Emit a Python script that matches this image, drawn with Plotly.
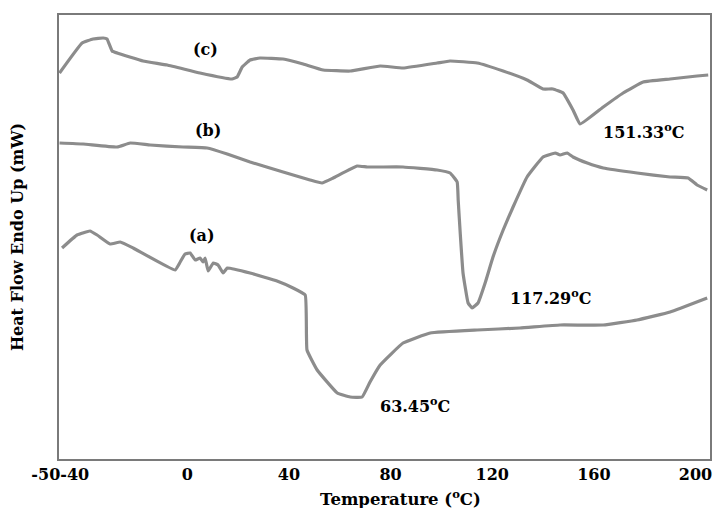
import plotly.graph_objects as go

# Temperature (°C) and heat flow (arbitrary mW units)
temp_a = [-49.3, -43.4, -38.3, -35.5, -30.4, -26.4, -21.3, -4.8, -2.8, -0.9, 1.1, 3.1, 5.0, 6.2, 7.0, 8.2,
          10.2, 12.1, 14.1, 15.7, 24.7, 35.3, 41.6, 46.4, 47.1, 51.1, 59.0, 64.1, 68.8, 71.9, 75.9, 84.9,
          95.6, 114.1, 130.9, 146.7, 163.7, 177.0, 190.0, 204.6]
flow_a = [21.1, 22.4, 22.8, 22.4, 21.5, 21.7, 21.1, 18.9, 19.7, 20.5, 20.6, 19.9, 20.1, 19.7, 20.1, 18.8,
          19.6, 19.4, 18.6, 19.1, 18.6, 17.8, 17.1, 16.4, 10.9, 8.9, 6.6, 6.2, 6.2, 7.7, 9.4, 11.6,
          12.6, 12.9, 13.1, 13.4, 13.4, 13.9, 14.7, 16.1]

temp_b = [-50.3, -41.0, -27.6, -22.5, -14.6, -1.7, 7.8, 15.7, 24.7, 37.7, 48.3, 53.0, 57.4, 66.8, 70.8, 75.9,
          84.9, 98.3, 103.4, 106.2, 106.6, 107.4, 108.5, 110.5, 112.1, 114.4, 117.2, 120.3, 124.3, 128.2,
          133.7, 140.0, 144.8, 146.7, 149.5, 151.8, 157.4, 163.7, 177.0, 190.0, 197.1, 200.6, 204.6]
flow_b = [31.6, 31.5, 31.2, 31.6, 31.4, 31.2, 31.1, 30.5, 29.7, 28.7, 27.9, 27.6, 28.1, 29.3, 29.2, 29.2,
          29.2, 28.9, 28.6, 27.7, 25.9, 22.6, 18.6, 15.6, 15.1, 15.6, 17.6, 20.2, 22.9, 25.2,
          28.2, 30.2, 30.6, 30.4, 30.6, 30.2, 29.6, 29.1, 28.6, 28.2, 28.1, 27.4, 26.9]

temp_c = [-50.3, -41.4, -37.1, -33.1, -31.6, -29.6, -27.6, -17.4, -7.9, 5.0, 17.6, 19.6, 21.6, 24.7, 28.6,
          37.7, 45.6, 53.5, 64.1, 75.9, 84.9, 98.3, 103.4, 114.1, 124.3, 133.7, 140.0, 143.9, 147.9, 151.8,
          154.6, 163.7, 171.5, 179.4, 190.0, 200.6, 205.0]
flow_c = [38.6, 41.6, 42.0, 42.1, 42.0, 40.8, 40.6, 39.8, 39.4, 38.6, 38.0, 38.2, 39.2, 39.9, 40.1,
          40.0, 39.5, 38.9, 38.8, 39.3, 39.1, 39.6, 39.8, 39.6, 38.8, 37.9, 37.0, 37.0, 36.6, 34.9,
          33.5, 35.2, 36.6, 37.7, 38.0, 38.3, 38.4]

tick_vals = [-50, 0, 40, 80, 120, 160, 200]
tick_text = ["-50-40", "0", "40", "80", "120", "160", "200"]

labels = ["(a)", "(b)", "(c)", "63.45<sup>o</sup>C", "117.29<sup>o</sup>C", "151.33<sup>o</sup>C"]
label_x = [5.8, 8.2, 7.0, 89.7, 142.8, 179.4]
label_y = [22.4, 32.9, 41.0, 5.4, 16.2, 32.8]

x_title = "Temperature (<sup>o</sup>C)"
y_title = "Heat Flow Endo Up (mW)"

SERIF = "DejaVu Serif"
LINE = "#8c8c8c"

fig = go.Figure()
for t, f, name in [(temp_a, flow_a, "(a)"), (temp_b, flow_b, "(b)"), (temp_c, flow_c, "(c)")]:
    fig.add_trace(go.Scatter(x=t, y=f, mode="lines", name=name,
                             line=dict(color=LINE, width=3.2, shape="spline", smoothing=0.3)))

for txt, x, y in zip(labels, label_x, label_y):
    fig.add_annotation(x=x, y=y, text=txt, showarrow=False,
                       font=dict(family=SERIF, size=16, color="black", weight="bold"))

# x-axis title (slightly right of centre, as in the original)
fig.add_annotation(xref="paper", yref="paper", x=0.525, y=-0.088, xanchor="center", yanchor="middle",
                   text=x_title, showarrow=False,
                   font=dict(family=SERIF, size=16.5, color="black", weight="bold"))

fig.update_layout(
    width=720, height=508,
    margin=dict(l=59, r=10, t=15, b=49),
    paper_bgcolor="white", plot_bgcolor="white",
    showlegend=False,
    xaxis=dict(range=[-50.5, 205.7], tickvals=tick_vals, ticktext=tick_text,
               showline=True, mirror=True, linecolor="#7a7a7a", linewidth=1.5,
               showgrid=False, zeroline=False, ticks="", automargin=False,
               tickfont=dict(family=SERIF, size=16, color="black", weight="bold")),
    yaxis=dict(range=[0, 44.4], showticklabels=False,
               showline=True, mirror=True, linecolor="#7a7a7a", linewidth=1.5,
               showgrid=False, zeroline=False, ticks="", automargin=False,
               title=dict(text=y_title, standoff=30,
                          font=dict(family=SERIF, size=16, color="black", weight="bold"))),
)

fig.write_html("out.html")
